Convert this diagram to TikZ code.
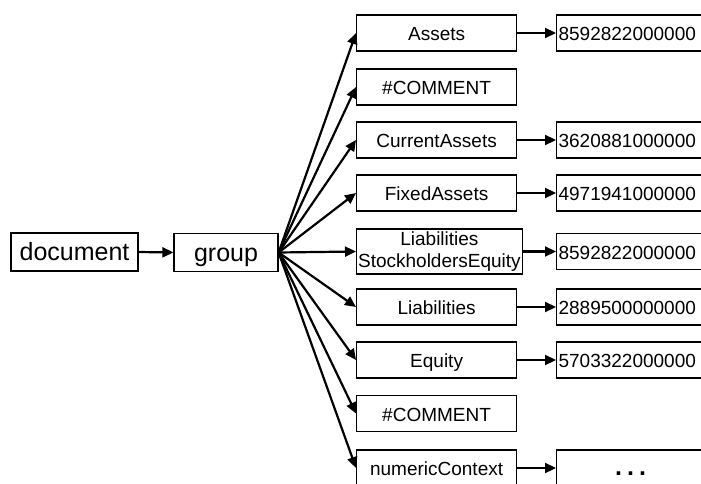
\documentclass[tikz,border=0pt]{standalone}
\usepackage{fontspec}
\setmainfont{Liberation Sans}
\usetikzlibrary{arrows.meta}
\begin{document}
\begin{tikzpicture}[x=1pt,y=-1pt,
  big/.style={draw=black, line width=1.2pt, minimum height=38pt, inner sep=2pt,
    text height=17pt, text depth=0pt, font=\fontsize{25}{30}\selectfont},
  box/.style={draw=black, line width=1.2pt, minimum width=160pt, minimum height=36pt,
    inner sep=2pt, anchor=west, align=center, text height=15.4pt, text depth=0pt,
    font=\fontsize{19}{22}\selectfont},
  val/.style={draw=black, line width=1.2pt, minimum height=36pt, text width=144pt,
    inner sep=2pt, anchor=west, align=left, text height=15.4pt, text depth=0pt,
    font=\fontsize{19}{22}\selectfont},
  arr/.style={-{Triangle[length=11pt,width=10pt]}, line width=2.2pt}]
\useasboundingbox (0,0) rectangle (701,484);
\clip (0,0) rectangle (701,484);

% root chain
\node[big, minimum width=127pt] (doc) at (74.5,252) {document};
\node[big, minimum width=104pt] (grp) at (226,252.5) {group};
\draw[arr] (doc.east) -- (grp.west);

% children of group
\node[box] (assets) at (356,33)    {Assets};
\node[box] (com1)   at (356,87)    {\#COMMENT};
\node[box] (cur)    at (356,140)   {CurrentAssets};
\node[box] (fix)    at (356,193)   {FixedAssets};
\node[box, text height=, text depth=, minimum height=45pt, inner sep=1.5pt] (lse)
  at (356,251.5) {Liabilities\\StockholdersEquity};
\node[box] (liab)   at (356,307)   {Liabilities};
\node[box] (eq)     at (356,360)   {Equity};
\node[box] (com2)   at (356,413.5) {\#COMMENT};
\node[box] (num)    at (356,468)   {numericContext};

\foreach \c in {assets,com1,cur,fix,lse,liab,eq,com2,num}
  \draw[arr] (grp.east) -- (\c.west);

% values
\node[val] (vassets) at (556,33)    {8592822000000};
\node[val] (vcur)    at (556,140)   {3620881000000};
\node[val] (vfix)    at (556,193)   {4971941000000};
\node[val] (vlse)    at (556,251.5) {8592822000000};
\node[val] (vliab)   at (556,307)   {2889500000000};
\node[val] (veq)     at (556,360)   {5703322000000};
\node[val, align=center, text height=15pt, text depth=1pt,
  font=\fontsize{25}{30}\selectfont\bfseries] (vnum) at (556,468) {.\hspace{0.2em}.\hspace{0.2em}.};

\draw[arr] (assets.east) -- (vassets.west);
\draw[arr] (cur.east)    -- (vcur.west);
\draw[arr] (fix.east)    -- (vfix.west);
\draw[arr] (lse.east)    -- (vlse.west);
\draw[arr] (liab.east)   -- (vliab.west);
\draw[arr] (eq.east)     -- (veq.west);
\draw[arr] (num.east)    -- (vnum.west);
\end{tikzpicture}
\end{document}
